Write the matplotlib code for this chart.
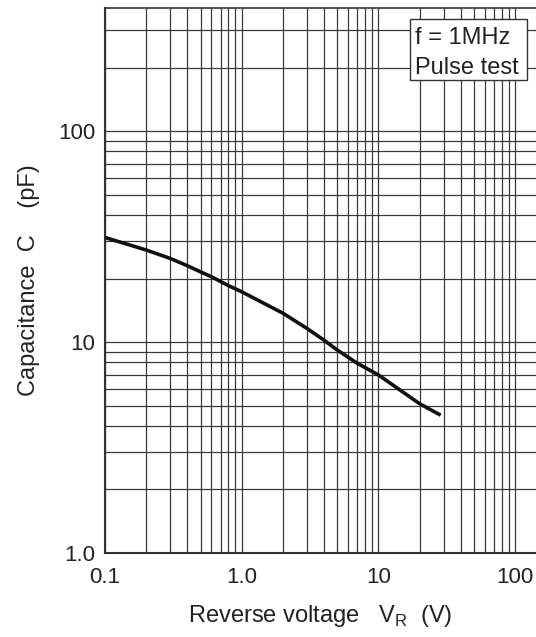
import matplotlib
matplotlib.use("Agg")
import matplotlib.pyplot as plt
from matplotlib.ticker import FixedLocator, FixedFormatter, LogLocator, NullFormatter
from matplotlib.patches import Rectangle

plt.rcParams['font.family'] = ['Liberation Sans', 'DejaVu Sans']
plt.rcParams['mathtext.fontset'] = 'custom'
plt.rcParams['mathtext.rm'] = 'Liberation Sans'

# Capacitance vs reverse voltage
voltage = [0.1, 0.2, 0.3, 0.4, 0.5, 0.6, 0.8, 1.0, 2, 3, 4, 5, 7, 10, 20, 28.5]
capacitance = [31.3, 27.3, 24.9, 23.0, 21.5, 20.4, 18.5, 17.3, 13.7, 11.6,
               10.2, 9.16, 7.93, 6.98, 5.1, 4.5]

x_ticks = [0.1, 1, 10, 100]
x_tick_labels = ["0.1", "1.0", "10", "100"]
y_ticks = [1, 10, 100]
y_tick_labels = ["1.0", "10", "100"]

W, H = 536, 637
fig = plt.figure(figsize=(W / 100, H / 100), dpi=100)
ax = fig.add_axes([105 / W, (H - 553) / H, (W - 105) / W, (553 - 8) / H])

ax.set_xscale("log")
ax.set_yscale("log")
ax.set_xlim(0.1, 142)
ax.set_ylim(1, 383)

ax.plot(voltage, capacitance, color="#111111", lw=2.6, solid_capstyle="butt", zorder=3)

ax.xaxis.set_major_locator(FixedLocator(x_ticks))
ax.xaxis.set_major_formatter(FixedFormatter(x_tick_labels))
ax.yaxis.set_major_locator(FixedLocator(y_ticks))
ax.yaxis.set_major_formatter(FixedFormatter(y_tick_labels))
ax.xaxis.set_minor_locator(LogLocator(base=10, subs=range(2, 10), numticks=20))
ax.yaxis.set_minor_locator(LogLocator(base=10, subs=range(2, 10), numticks=20))
ax.xaxis.set_minor_formatter(NullFormatter())
ax.yaxis.set_minor_formatter(NullFormatter())

ax.grid(which="both", color="#3a3a3a", lw=0.9)
ax.tick_params(which="both", length=0, labelsize=16, colors="#222222")
ax.tick_params(axis="x", pad=10)
ax.tick_params(axis="y", pad=7)

for side in ["left", "bottom"]:
    ax.spines[side].set_linewidth(1.5)
    ax.spines[side].set_color("#333333")
ax.spines["top"].set_linewidth(1.2)
ax.spines["top"].set_color("#333333")
ax.spines["right"].set_visible(False)

ax.set_xlabel("Reverse voltage   V$_\\mathrm{R}$  (V)", fontsize=17,
              color="#222222", labelpad=11)
ax.set_ylabel("Capacitance  C    (pF)", fontsize=17, color="#222222", labelpad=13)

# condition box in the upper right corner
box = Rectangle((0.708, 0.868), 0.271, 0.112, transform=ax.transAxes,
                facecolor="white", edgecolor="#333333", lw=1.0, zorder=4)
ax.add_patch(box)
ax.text(0.720, 0.945, "f = 1MHz", transform=ax.transAxes, fontsize=17,
        va="center", ha="left", color="#222222", zorder=5)
ax.text(0.720, 0.890, "Pulse test", transform=ax.transAxes, fontsize=17,
        va="center", ha="left", color="#222222", zorder=5)

fig.savefig("out.png", dpi=100, facecolor="white")
